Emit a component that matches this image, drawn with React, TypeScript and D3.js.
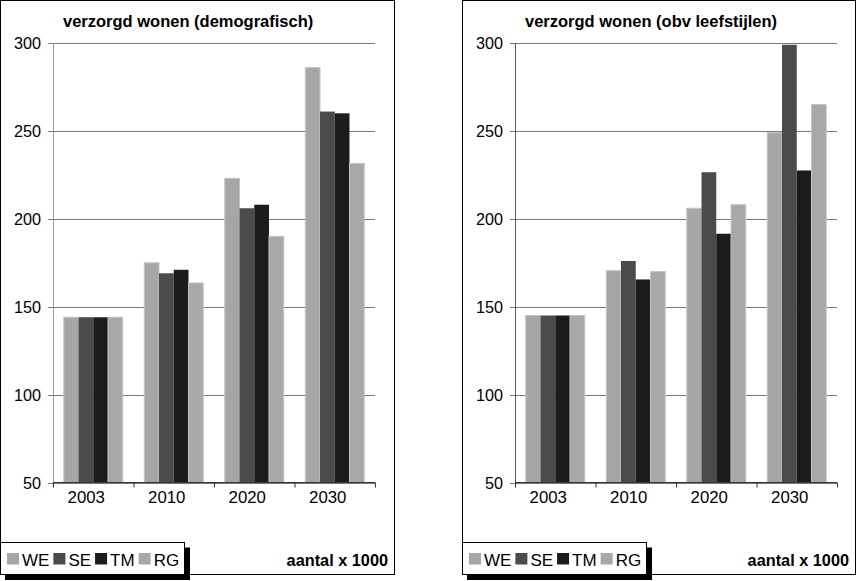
import React, { useRef, useEffect } from 'react';
import * as d3 from 'd3';

// categories + series
const years = ['2003', '2010', '2020', '2030'];
const seriesNames = ['WE', 'SE', 'TM', 'RG'];
const yTicks = [50, 100, 150, 200, 250, 300];

// demografisch
const demoWE = [144, 175, 223, 286];
const demoSE = [144, 169, 206, 261];
const demoTM = [144, 171, 208, 260];
const demoRG = [144, 163.5, 190, 231.5];

// obv leefstijlen
const leefWE = [145, 170.5, 206, 249];
const leefSE = [145, 176, 226.5, 299];
const leefTM = [145, 165.5, 191.5, 227.5];
const leefRG = [145, 170, 208, 265];

const colors: Record<string, string> = { WE: '#a6a6a6', SE: '#4b4b4b', TM: '#1c1c1c', RG: '#a8a8a8' };
const FONT = '"Liberation Sans", Arial, sans-serif';

interface PanelOpts {
  left: number;
  right: number;
  title: string;
  series: number[][];
  axisColor: string;
}

const App: React.FC = () => {
  const svgRef = useRef<SVGSVGElement | null>(null);

  useEffect(() => {
    document.body.style.margin = '0';
    if (!svgRef.current) return;
    const svg = d3.select(svgRef.current);
    svg.selectAll('*').remove();

    const drawPanel = (o: PanelOpts) => {
      const g = svg.append('g');
      const top = 0.5, bottom = 574.5;
      const plotL = o.left + 53, plotR = o.left + 375;

      // panel frame
      g.append('rect')
        .attr('x', o.left + 0.5).attr('y', top)
        .attr('width', o.right - o.left).attr('height', bottom - top)
        .attr('fill', '#fff').attr('stroke', '#000');

      const y = d3.scaleLinear().domain([50, 300]).range([482.5, 43]);
      const x0 = d3.scaleBand<string>().domain(years).range([plotL, plotR]);
      const x1 = d3.scaleBand<string>().domain(seriesNames).range([0, x0.bandwidth()]).paddingOuter(0.73);

      // gridlines
      g.selectAll('.grid')
        .data(yTicks)
        .join('line')
        .attr('x1', plotL - 5).attr('x2', plotR)
        .attr('y1', d => Math.round(y(d)) + 0.5).attr('y2', d => Math.round(y(d)) + 0.5)
        .attr('stroke', '#7a7a7a').attr('stroke-width', 1);

      // y labels
      g.selectAll('.ylab')
        .data(yTicks)
        .join('text')
        .attr('x', plotL - 12).attr('y', d => y(d) + 6)
        .attr('text-anchor', 'end')
        .attr('font-family', FONT).attr('font-size', 16.2)
        .text(d => d);

      // bars
      const rows = years.map((yr, i) => ({ yr, vals: seriesNames.map((s, j) => ({ s, v: o.series[j][i] })) }));
      const grp = g.selectAll('.grp').data(rows).join('g')
        .attr('transform', d => `translate(${x0(d.yr)},0)`);
      grp.selectAll('rect')
        .data(d => d.vals)
        .join('rect')
        .attr('x', d => x1(d.s)!)
        .attr('width', x1.bandwidth())
        .attr('y', d => y(d.v))
        .attr('height', d => y(50) - y(d.v))
        .attr('fill', d => colors[d.s])
        .attr('stroke', d => (d.s === 'WE' || d.s === 'RG') ? '#c4c4c4' : 'none')
        .attr('stroke-width', 1);

      // axes lines
      g.append('line')
        .attr('x1', plotL + 0.5).attr('x2', plotL + 0.5)
        .attr('y1', y(300)).attr('y2', y(50))
        .attr('stroke', o.axisColor);
      g.append('line')
        .attr('x1', plotL).attr('x2', plotR)
        .attr('y1', y(50)).attr('y2', y(50))
        .attr('stroke', '#333');
      const tickXs = years.map(d => x0(d)!).concat([plotR]);
      g.selectAll('.xt')
        .data(tickXs)
        .join('line')
        .attr('x1', d => d + 0.5).attr('x2', d => d + 0.5)
        .attr('y1', y(50)).attr('y2', y(50) + 5)
        .attr('stroke', '#333');

      // x labels
      g.selectAll('.xlab')
        .data(years)
        .join('text')
        .attr('x', d => x0(d)! + x0.bandwidth() / 2 - 7)
        .attr('y', 503)
        .attr('text-anchor', 'middle')
        .attr('font-family', FONT).attr('font-size', 16.8)
        .text(d => d);

      // title
      g.append('text')
        .attr('x', o.left + 63).attr('y', 26.5)
        .attr('font-family', FONT).attr('font-size', 16.5).attr('font-weight', 'bold')
        .text(o.title);

      // legend with shadow
      const lgTop = 542.5, lgBottom = 574.5;
      const lgW = 184;
      g.append('rect')
        .attr('x', o.left + 5).attr('y', lgTop + 5)
        .attr('width', lgW + 1).attr('height', lgBottom - lgTop + 0.5)
        .attr('fill', '#000');
      g.append('rect')
        .attr('x', o.left + 0.5).attr('y', lgTop)
        .attr('width', lgW).attr('height', lgBottom - lgTop)
        .attr('fill', '#fff').attr('stroke', '#000');
      let cx = o.left + 7;
      seriesNames.forEach(s => {
        g.append('rect')
          .attr('x', cx).attr('y', 553)
          .attr('width', 12).attr('height', 11.5)
          .attr('fill', colors[s]);
        const t = g.append('text')
          .attr('x', cx + 15).attr('y', 565.5)
          .attr('font-family', FONT).attr('font-size', 17)
          .text(s);
        const w = (t.node() as SVGTextElement).getComputedTextLength();
        cx += 15 + w + 4;
      });

      g.append('text')
        .attr('x', o.right - 6).attr('y', 565.5)
        .attr('text-anchor', 'end')
        .attr('font-family', FONT).attr('font-size', 16.3).attr('font-weight', 'bold')
        .text('aantal x 1000');
    };

    drawPanel({
      left: 0, right: 394, title: 'verzorgd wonen (demografisch)',
      series: [demoWE, demoSE, demoTM, demoRG], axisColor: '#9a9a9a',
    });
    drawPanel({
      left: 462, right: 855, title: 'verzorgd wonen (obv leefstijlen)',
      series: [leefWE, leefSE, leefTM, leefRG], axisColor: '#555',
    });
  }, []);

  return <svg ref={svgRef} width={857} height={581} style={{ display: 'block' }} />;
};

export default App;
